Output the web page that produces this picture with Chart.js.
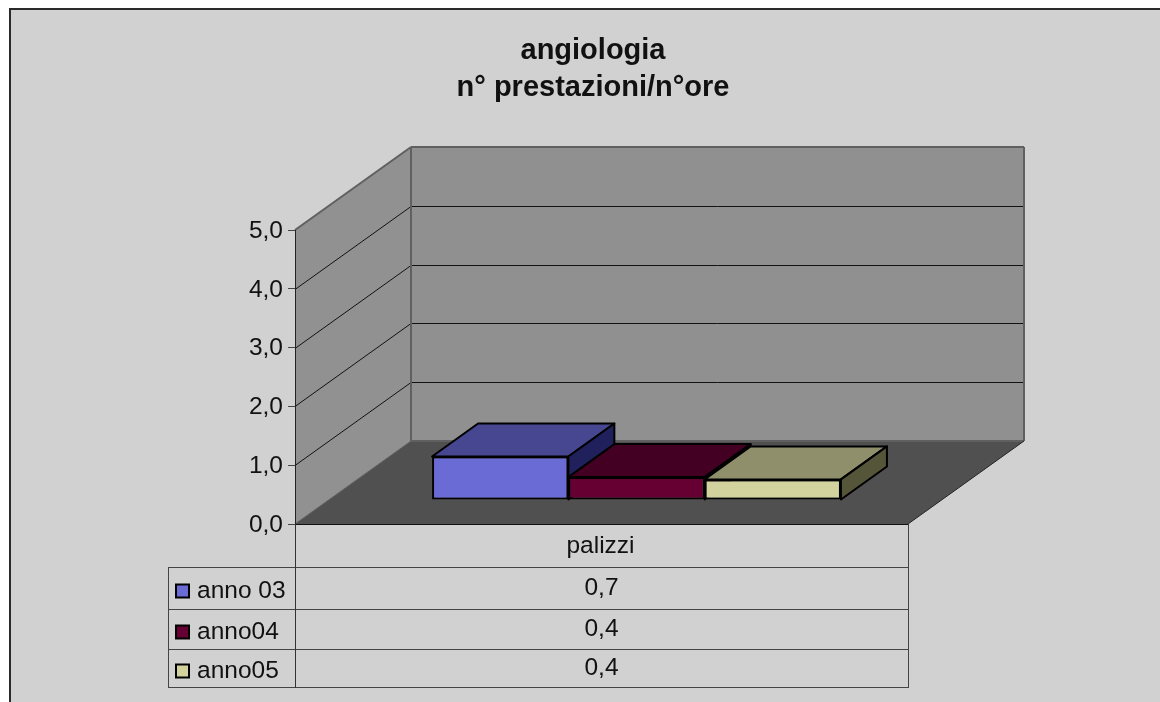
<!DOCTYPE html>
<html>
<head>
    <title>angiologia</title>
    <script src="https://cdn.jsdelivr.net/npm/chart.js"></script>
    <style>
        html, body { margin: 0; height: 100%; overflow: hidden; background: #fff; }
        #frame { position: absolute; left: 9px; top: 8px; width: 1166px; height: 692px;
                 border-left: 2px solid #2a2a2a; border-top: 2px solid #2a2a2a; background: #d1d1d1; }
        canvas { display: block; }
    </style>
</head>
<body>
    <div id="frame"><canvas id="chart" width="1166" height="692"></canvas></div>
    <script>
        var titleLines = ['angiologia', 'n° prestazioni/n°ore'];
        var categories = ['palizzi'];
        var seriesNames = ['anno 03', 'anno04', 'anno05'];
        var seriesValues = [[0.74], [0.39], [0.35]];
        var tableValues = ['0,7', '0,4', '0,4'];
        var yTickLabels = ['0,0', '1,0', '2,0', '3,0', '4,0', '5,0'];
        var frontColors = ['#6b6bd6', '#660033', '#d2d29e'];
        var topColors = ['#464691', '#440022', '#8f8f6b'];
        var sideColors = ['#20205c', '#33001a', '#55553a'];

        // depth of the box and where the bars stand inside it
        var wallDx = 116, wallDy = 83;
        var barDx = 35, barDy = 24;
        var topDx = 46, topDy = 33;
        var FONT = '"Liberation Sans", Arial, sans-serif';

        function poly(ctx, pts, fill, stroke, lw) {
            ctx.beginPath();
            ctx.moveTo(pts[0][0], pts[0][1]);
            for (var i = 1; i < pts.length; i++) ctx.lineTo(pts[i][0], pts[i][1]);
            ctx.closePath();
            if (fill) { ctx.fillStyle = fill; ctx.fill(); }
            if (stroke) { ctx.strokeStyle = stroke; ctx.lineWidth = lw || 1; ctx.stroke(); }
        }

        function line(ctx, x1, y1, x2, y2, color, lw) {
            ctx.beginPath();
            ctx.moveTo(x1, y1);
            ctx.lineTo(x2, y2);
            ctx.strokeStyle = color;
            ctx.lineWidth = lw || 1;
            ctx.stroke();
        }

        var walls = {
            id: 'walls',
            // y tick labels sit in the left padding, stop the scale clipping them
            afterLayout: function (chart) {
                chart.scales.y.left = 0;
            },
            beforeDraw: function (chart) {
                var ctx = chart.ctx, a = chart.chartArea, y = chart.scales.y;
                var l = a.left, r = a.right, t = a.top, b = a.bottom;
                ctx.save();
                poly(ctx, [[l, t], [l + wallDx, t - wallDy], [l + wallDx, b - wallDy], [l, b]], '#919191');
                poly(ctx, [[l + wallDx, t - wallDy], [r + wallDx, t - wallDy], [r + wallDx, b - wallDy], [l + wallDx, b - wallDy]], '#909090');
                poly(ctx, [[l, b], [l + wallDx, b - wallDy], [r + wallDx, b - wallDy], [r, b]], '#505050');
                for (var v = 1; v < 5; v++) {
                    var py = Math.round(y.getPixelForValue(v)) + 0.5;
                    line(ctx, l, py, l + wallDx, py - wallDy, '#111');
                    line(ctx, l + wallDx, py - wallDy, r + wallDx, py - wallDy, '#111');
                }
                line(ctx, l, t, l + wallDx, t - wallDy, '#606060', 2);
                line(ctx, l + wallDx, t - wallDy, r + wallDx, t - wallDy, '#606060', 2);
                line(ctx, l + wallDx, t - wallDy, l + wallDx, b - wallDy, '#606060', 2);
                line(ctx, r + wallDx, t - wallDy, r + wallDx, b - wallDy, '#606060', 2);
                line(ctx, l + wallDx, b - wallDy, r + wallDx, b - wallDy, '#606060', 2);
                line(ctx, l, b, l + wallDx, b - wallDy, '#606060', 1);
                line(ctx, r, b, r + wallDx, b - wallDy, '#222', 1);
                ctx.restore();
            }
        };

        // Chart.js paints the first dataset last, the boxes need it the other way round
        var boxes = {
            id: 'boxes',
            beforeDatasetDraw: function () {
                return false;
            },
            afterDatasetsDraw: function (chart) {
                var ctx = chart.ctx;
                for (var i = 0; i < chart.data.datasets.length; i++) {
                    var meta = chart.getDatasetMeta(i), el = meta.data[0];
                    var x1 = el.x - el.width / 2, x2 = el.x + el.width / 2;
                    ctx.save();
                    ctx.translate(barDx, -barDy);
                    ctx.lineJoin = 'round';
                    poly(ctx, [[x1, el.y], [x1 + topDx, el.y - topDy], [x2 + topDx, el.y - topDy], [x2, el.y]], topColors[i], '#000', 2);
                    poly(ctx, [[x2, el.y], [x2 + topDx, el.y - topDy], [x2 + topDx, el.base - topDy], [x2, el.base]], sideColors[i], '#000', 2);
                    meta.controller.draw();
                    ctx.restore();
                }
            }
        };

        var dataTable = {
            id: 'dataTable',
            afterDraw: function (chart) {
                var ctx = chart.ctx, a = chart.chartArea;
                var tableLeft = a.left - 127;
                var rows = [a.bottom + 43, a.bottom + 85, a.bottom + 125, a.bottom + 163];
                ctx.save();
                for (var i = 0; i < rows.length; i++) {
                    line(ctx, tableLeft, rows[i] + 0.5, a.right, rows[i] + 0.5, '#444');
                }
                line(ctx, tableLeft + 0.5, rows[0], tableLeft + 0.5, rows[3] + 1, '#444');
                line(ctx, a.left + 0.5, a.bottom, a.left + 0.5, rows[3] + 1, '#333');
                line(ctx, a.right + 0.5, a.bottom, a.right + 0.5, rows[3] + 1, '#444');
                ctx.font = '24.5px ' + FONT;
                ctx.textBaseline = 'middle';
                for (var s = 0; s < seriesNames.length; s++) {
                    var mid = (rows[s] + rows[s + 1]) / 2 + 1;
                    ctx.fillStyle = frontColors[s];
                    ctx.strokeStyle = '#000';
                    ctx.lineWidth = 2;
                    ctx.fillRect(tableLeft + 8, mid - 4.5, 13, 13);
                    ctx.strokeRect(tableLeft + 8, mid - 4.5, 13, 13);
                    ctx.fillStyle = '#111';
                    ctx.textAlign = 'left';
                    ctx.fillText(seriesNames[s], tableLeft + 29, mid + 2.5);
                    ctx.textAlign = 'center';
                    ctx.fillText(tableValues[s], (a.left + a.right) / 2, mid - 0.5);
                }
                ctx.restore();
            }
        };

        var datasets = [];
        for (var i = 0; i < seriesNames.length; i++) {
            datasets.push({
                label: seriesNames[i],
                data: seriesValues[i],
                backgroundColor: frontColors[i],
                borderColor: '#000',
                borderWidth: 2,
                borderSkipped: false,
                categoryPercentage: 0.667,
                barPercentage: 1
            });
        }

        new Chart(document.getElementById('chart'), {
            type: 'bar',
            data: { labels: categories, datasets: datasets },
            plugins: [walls, boxes, dataTable],
            options: {
                responsive: false,
                animation: false,
                // left and right padding also put the title centre where the original has it
                layout: { padding: { left: 267, right: 269, top: 0, bottom: 0 } },
                scales: {
                    x: {
                        grid: { drawOnChartArea: false, drawTicks: false },
                        border: { color: '#111', width: 1 },
                        ticks: { color: '#111', padding: 8, labelOffset: -1, font: { family: FONT, size: 24.5 } },
                        afterFit: function (scale) { scale.height = 178; }
                    },
                    y: {
                        min: 0,
                        max: 5,
                        grid: { drawOnChartArea: false, tickLength: 7, color: '#444' },
                        border: { color: '#222', width: 1 },
                        ticks: {
                            stepSize: 1,
                            color: '#111',
                            padding: 5,
                            labelOffset: 1,
                            font: { family: FONT, size: 24.5 },
                            callback: function (value) { return yTickLabels[value]; }
                        },
                        afterFit: function (scale) { scale.width = 17; }
                    }
                },
                plugins: {
                    legend: { display: false },
                    tooltip: { enabled: false },
                    title: {
                        display: true,
                        text: titleLines,
                        color: '#111',
                        font: { family: FONT, size: 29, weight: 'bold', lineHeight: 1.28 },
                        padding: { top: 22.5, bottom: 123.26 }
                    }
                }
            }
        });
    </script>
</body>
</html>
